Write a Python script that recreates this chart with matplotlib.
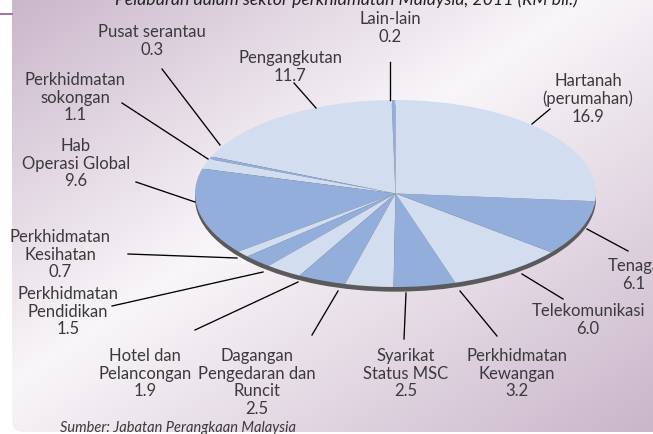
import numpy as np
import matplotlib.pyplot as plt
from matplotlib.patches import FancyBboxPatch

# data: pelaburan sektor perkhidmatan (RM bil.), mula dari atas, lawan arah jam
sektor = ['Lain-lain', 'Pengangkutan', 'Pusat serantau', 'Perkhidmatan\nsokongan',
          'Hab\nOperasi Global', 'Perkhidmatan\nKesihatan', 'Perkhidmatan\nPendidikan',
          'Hotel dan\nPelancongan', 'Dagangan\nPengedaran dan\nRuncit', 'Syarikat\nStatus MSC',
          'Perkhidmatan\nKewangan', 'Telekomunikasi', 'Tenaga', 'Hartanah\n(perumahan)']
nilai = [0.2, 11.7, 0.3, 1.1, 9.6, 0.7, 1.5, 1.9, 2.5, 2.5, 3.2, 6.0, 6.1, 16.9]

# kedudukan label (piksel) dan garisan penunjuk
label_xy = [(390, 11), (290, 50), (152, 24), (75, 72), (76, 138), (60, 229), (68, 286),
            (145, 348), (257, 348), (406, 348), (517, 348), (588, 303), (634, 258), (588, 73)]
garis = [((390, 63), (390, 101)), ((294, 84), (316, 109)), ((162, 70), (220, 146)),
         ((122, 104), (208, 160)), ((136, 183), (195, 203)), ((128, 255), (237, 259)),
         ((112, 307), (263, 273)), ((195, 331), (298, 283)), ((312, 336), (338, 292)),
         ((404, 340), (406, 294)), ((497, 337), (460, 292)), ((563, 300), (522, 275)),
         ((628, 252), (587, 230)), ((532, 125), (550, 110))]

W, H = 653, 435
plt.rcParams['font.family'] = ['Lato', 'DejaVu Sans']
fig = plt.figure(figsize=(W / 100, H / 100), dpi=100)

# latar belakang kecerunan
bg = fig.add_axes([0, 0, 1, 1], zorder=0)
bg.set_xlim(0, W)
bg.set_ylim(H, 0)
bg.axis('off')
yy, xx = np.mgrid[0:H, 0:W]
t = (xx / W + yy / H) / 2
f = np.where(t < 0.45, t / 0.45, (1 - t) / 0.55)
mauve = np.array([0.79, 0.71, 0.79])
putih = np.array([0.975, 0.965, 0.975])
img = mauve[None, None, :] * (1 - f[..., None]) + putih[None, None, :] * f[..., None]
im = bg.imshow(img, extent=[0, W, H, 0], aspect='auto')
panel = FancyBboxPatch((12, -20), 700, 453, boxstyle='round,pad=0,rounding_size=12',
                       transform=bg.transData, facecolor='none', edgecolor='none')
bg.add_patch(panel)
im.set_clip_path(panel)
bg.plot([0, 12], [15, 15], color='#9e7b9b', lw=1.5)

# pai
pa = fig.add_axes([195 / W, 1 - 288 / H, 401 / W, 187 / H], zorder=1)
warna = ['#93aedb' if i % 2 == 0 else '#d3ddf0' for i in range(len(nilai))]
pa.pie([1], colors=['#5a5a5a'], radius=1, center=(0, -0.05),
       wedgeprops=dict(linewidth=0, clip_on=False))
pa.pie(nilai, colors=warna, startangle=90, counterclock=True, radius=1,
       wedgeprops=dict(linewidth=0, clip_on=False))
pa.set_aspect('auto')
pa.set_xlim(-1, 1)
pa.set_ylim(-1, 1)
pa.axis('off')

# label dan garisan
ov = fig.add_axes([0, 0, 1, 1], zorder=2)
ov.set_xlim(0, W)
ov.set_ylim(H, 0)
ov.axis('off')
ov.patch.set_alpha(0)
for nama, v, (x, y), (p0, p1) in zip(sektor, nilai, label_xy, garis):
    ov.text(x, y, nama + '\n' + str(v), ha='center', va='top', fontsize=12,
            color='#3a3a3a', linespacing=1.13)
    ov.plot([p0[0], p1[0]], [p0[1], p1[1]], color='black', lw=0.95)

ov.text(346, 5, 'Pelaburan dalam sektor perkhidmatan Malaysia, 2011 (RM bil.)',
        ha='center', va='baseline', fontsize=12.7, style='italic', color='#222222')
ov.text(60, 432, 'Sumber: Jabatan Perangkaan Malaysia', ha='left', va='baseline',
        fontsize=10.5, style='italic', color='#3a3a3a')

plt.savefig('out.png', dpi=100)
